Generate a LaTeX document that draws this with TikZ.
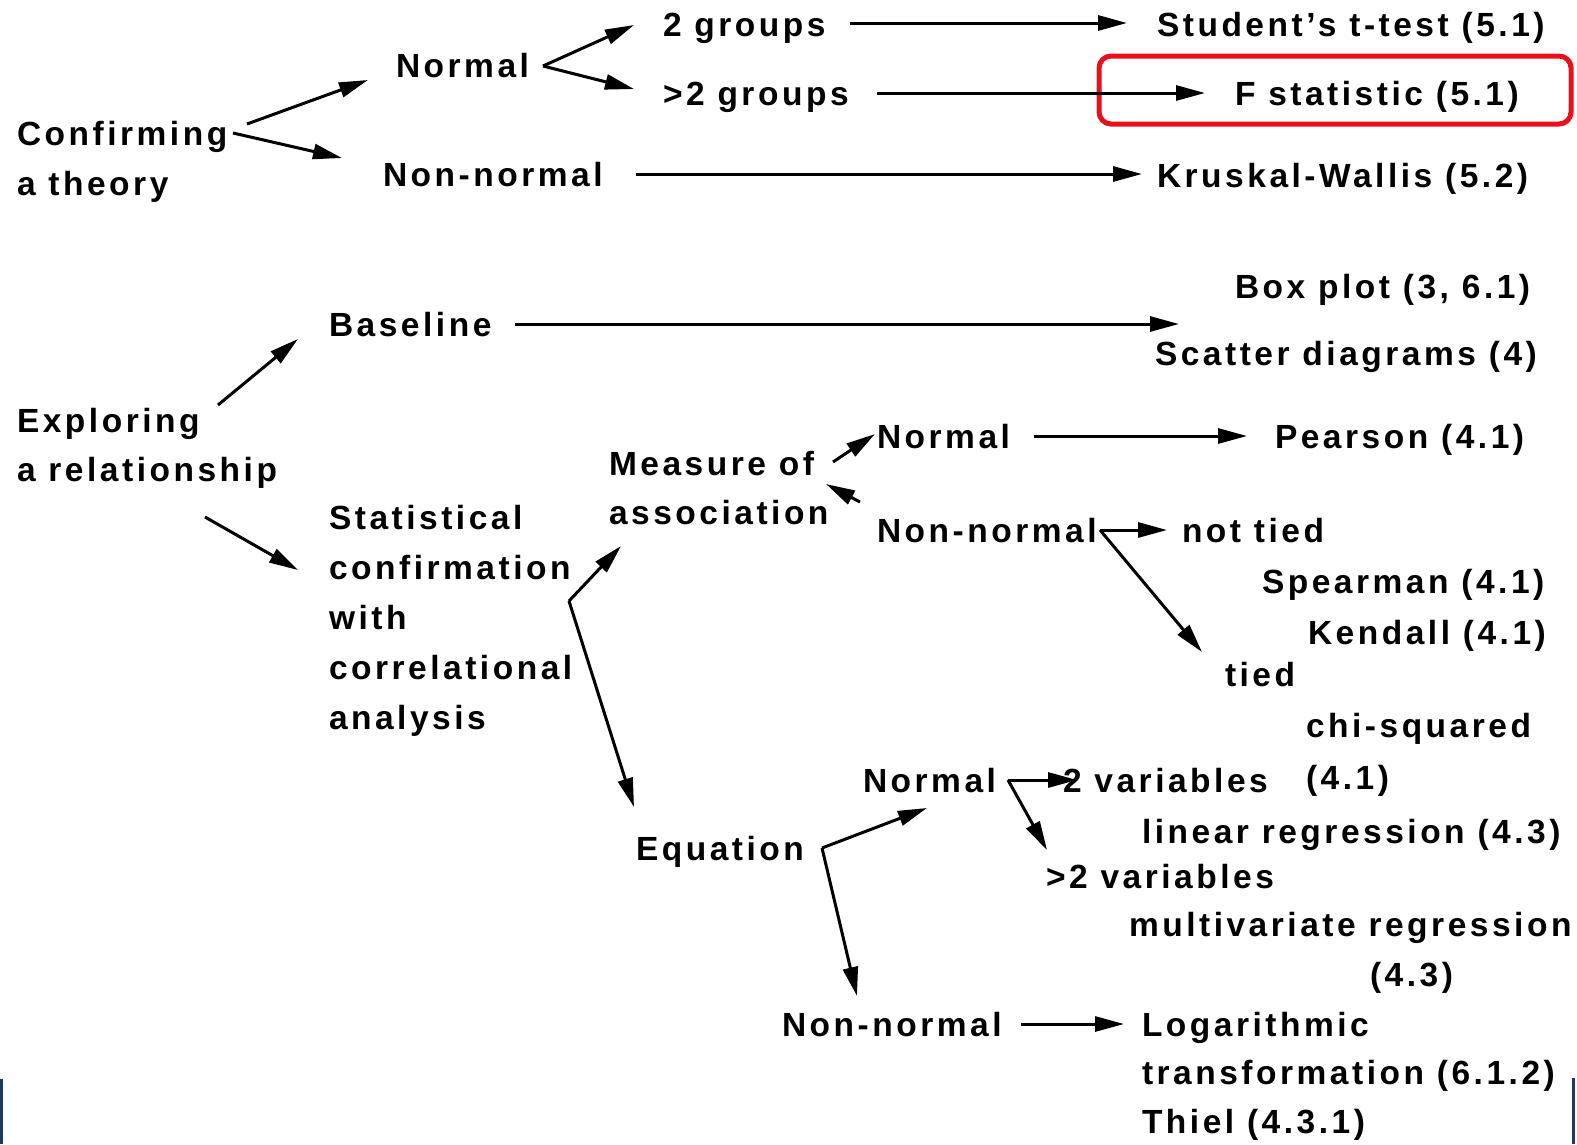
\documentclass[tikz,border=0pt]{standalone}
\usepackage{fontspec}
\setmainfont{Liberation Sans}[LetterSpace=10.5]
\usetikzlibrary{arrows.meta}
\definecolor{boxred}{RGB}{232,17,27}
\definecolor{edgeblue}{RGB}{35,55,100}
\begin{document}
\begin{tikzpicture}[x=1pt,y=-1pt,
  txt/.style={font=\fontsize{33.5}{50}\selectfont\bfseries, inner sep=0pt, outer sep=0pt, anchor=base west},
  one/.style={txt, text height=24pt, text depth=0pt},
  arr/.style={line width=3pt, -{Triangle[length=29pt,width=15pt]}}]
\useasboundingbox (0,0) rectangle (1577,1144);
% top part
\node[txt,align=left] (ct) at (17,195) {Confirming\\a theory};
\node[one] (n1) at (396,77) {Normal};
\node[one] (g2) at (663,36) {2 groups};
\node[one] (g3) at (663,105) {>2 groups};
\node[one] (nn1) at (383,186) {Non-normal};
\node[one] (stud) at (1157,36) {Student's t-test (5.1)};
\node[one] (fst) at (1235,105) {F statistic (5.1)};
\node[one] (kw) at (1157,187) {Kruskal-Wallis (5.2)};
\node[draw=boxred, line width=5pt, rounded corners=12pt, minimum width=472pt, minimum height=68pt, inner sep=0pt] (hl) at (1335,90) {};
% middle
\node[txt,align=left,font=\fontsize{33.5}{49}\selectfont\bfseries] (ex) at (17,481) {Exploring\\a relationship};
\node[one] (base) at (329,336) {Baseline};
\node[one] (box) at (1235,298) {Box plot (3, 6.1)};
\node[one] (scat) at (1155,365) {Scatter diagrams (4)};
\node[txt,align=left] (stat) at (329,729) {Statistical\\confirmation\\with\\correlational\\analysis};
\node[txt,align=left,font=\fontsize{33.5}{49}\selectfont\bfseries] (meas) at (609,524) {Measure of\\association};
\node[one] (n2) at (877,448) {Normal};
\node[one] (pear) at (1275,448) {Pearson (4.1)};
\node[one] (nn2) at (877,542) {Non-normal};
\node[one] (nt) at (1182,542) {not tied};
\node[one] (spear) at (1262,593) {Spearman (4.1)};
\node[one] (kend) at (1308,644) {Kendall (4.1)};
\node[one] (tied) at (1225,686) {tied};
\node[txt,align=left,font=\fontsize{33.5}{52}\selectfont\bfseries] (chi) at (1306,789) {chi-squared\\(4.1)};
\node[one] (eq) at (636,860) {Equation};
\node[one] (n3) at (863,792) {Normal};
\node[one] (v2) at (1063,792) {2 variables};
\node[one] (lin) at (1142,843) {linear regression (4.3)};
\node[one] (v3) at (1046,888) {>2 variables};
\node[txt,align=left] (mvr) at (1129,986) {multivariate regression\\\hspace*{241pt}(4.3)};
\node[one] (nn3) at (782,1036) {Non-normal};
\node[txt,align=left,font=\fontsize{33.5}{48.5}\selectfont\bfseries] (log) at (1142,1133) {Logarithmic\\transformation (6.1.2)\\Thiel (4.3.1)};
% arrows top
\draw[arr] ([shift={(230,-71)}]ct.base west) -- ([shift={(-28,15)}]n1.west);
\draw[arr] ([shift={(216,-62)}]ct.base west) -- ([shift={(-41,-16)}]nn1.west);
\coordinate (fk0) at ([shift={(147,1)}]n1.west);
\draw[arr] (fk0) -- ([shift={(-29,1)}]g2.west);
\draw[arr] (fk0) -- ([shift={(-29,-4)}]g3.west);
\draw[arr] ([shift={(187,-1)}]g2.west) -- ([shift={(-30,-1)}]stud.west);
\draw[arr] ([shift={(214,0)}]g3.west) -- ([shift={(-30,0)}]fst.west);
\draw[arr] ([shift={(253,0)}]nn1.west) -- ([shift={(-15,-1)}]kw.west);
% arrows middle
\draw[arr] ([shift={(201,-76)}]ex.base west) -- ([shift={(-31,15)}]base.west);
\draw[arr] ([shift={(188,36)}]ex.base west) -- ([shift={(-31,-159)}]stat.base west);
\draw[arr] ([shift={(186,0)}]base.west) -- ([shift={(24,-29)}]scat.west);
\coordinate (fk1) at ([shift={(240,-128)}]stat.base west);
\draw[arr] (fk1) -- ([shift={(12,22)}]meas.base west);
\draw[arr] (fk1) -- ([shift={(-2,-41)}]eq.west);
\draw[arr] ([shift={(224,-62)}]meas.base west) -- ([shift={(-2,-2)}]n2.west);
\draw[arr] ([shift={(-17,-28)}]nn2.west) -- ([shift={(217,-40)}]meas.base west);
\draw[arr] ([shift={(157,0)}]n2.west) -- ([shift={(-28,0)}]pear.west);
\coordinate (fk2) at ([shift={(223,0)}]nn2.west);
\draw[arr] (fk2) -- ([shift={(-15,0)}]nt.west);
\draw[arr] (fk2) -- ([shift={(-23,-22)}]tied.west);
% arrows bottom
\coordinate (fk3) at ([shift={(186,0)}]eq.west);
\draw[arr] (fk3) -- ([shift={(64,28)}]n3.west);
\draw[arr] (fk3) -- ([shift={(75,-28)}]nn3.west);
\coordinate (fk4) at ([shift={(145,0)}]n3.west);
\draw[arr] (fk4) -- ([shift={(14,0)}]v2.west);
\draw[arr] (fk4) -- ([shift={(1,-26)}]v3.west);
\draw[arr] ([shift={(239,0)}]nn3.west) -- ([shift={(-18,-109)}]log.base west);
% edge bars
\fill[edgeblue] (0,1079) rectangle (3,1144);
\fill[edgeblue] (1572,1078) rectangle (1575,1144);
\end{tikzpicture}
\end{document}
